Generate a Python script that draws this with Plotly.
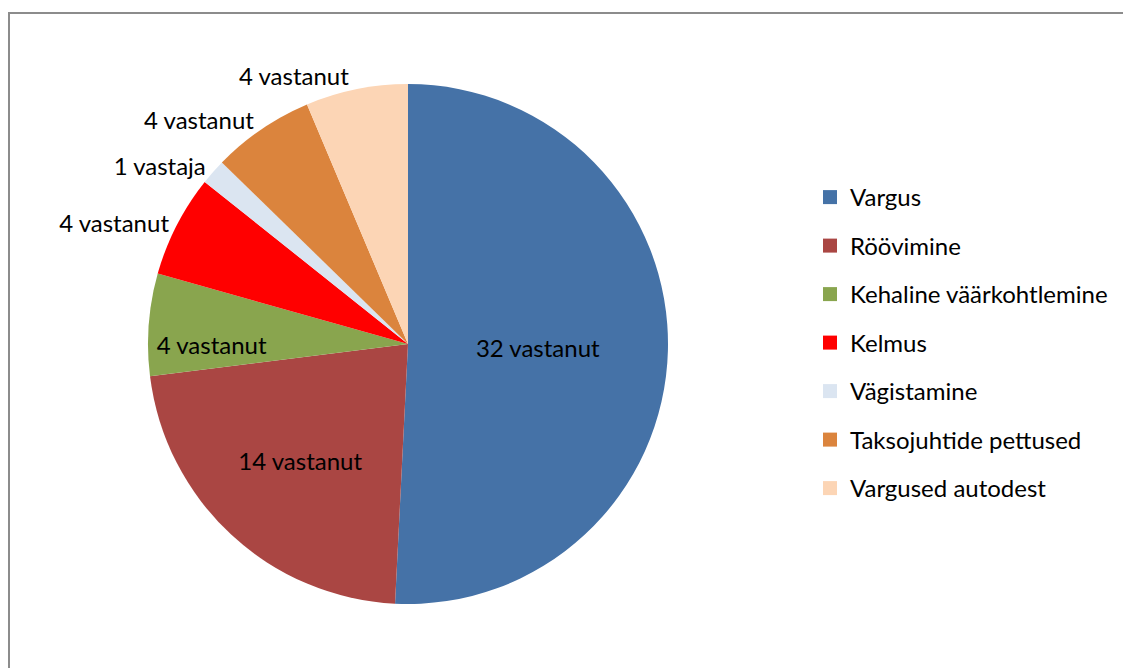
import plotly.graph_objects as go

categories = ["Vargus", "Röövimine", "Kehaline väärkohtlemine", "Kelmus",
              "Vägistamine", "Taksojuhtide pettused", "Vargused autodest"]
values = [32, 14, 4, 4, 1, 4, 4]
label_texts = ["32 vastanut", "14 vastanut", "4 vastanut", "4 vastanut",
               "1 vastaja", "4 vastanut", "4 vastanut"]
colors = ["#4572A7", "#AA4643", "#89A54E", "#FF0000", "#DBE5F1", "#DB843D", "#FCD5B5"]
text_positions = ["inside", "inside", "inside", "outside", "outside", "outside", "outside"]

OFF = 8  # page body margin
W, H = 1131 - OFF, 668 - OFF
FONT = "Lato"
FS = 24

cx, cy, R = 408 - OFF, 344 - OFF, 260

fig = go.Figure()
fig.add_trace(go.Pie(
    labels=categories, values=values, text=label_texts,
    textinfo="text", textposition=text_positions,
    insidetextorientation="horizontal",
    marker=dict(colors=colors, line=dict(width=0)),
    sort=False, direction="clockwise", rotation=0,
    textfont=dict(family=FONT, size=FS, color="black"),
    outsidetextfont=dict(family=FONT, size=FS, color="black"),
    insidetextfont=dict(family=FONT, size=FS, color="black"),
    domain=dict(x=[(cx - R) / W, (cx + R) / W],
                y=[(H - cy - R) / H, (H - cy + R) / H]),
    showlegend=False,
))

# legend entries
for cat, col in zip(categories, colors):
    fig.add_trace(go.Scatter(
        x=[None], y=[None], mode="markers", name=cat, legendgroup=cat,
        marker=dict(symbol="square", size=14, color=col),
    ))

fig.update_layout(
    width=W, height=H,
    margin=dict(l=0, r=0, t=0, b=0),
    paper_bgcolor="white", plot_bgcolor="white",
    font=dict(family=FONT, size=FS, color="black"),
    uniformtext=dict(minsize=FS, mode="show"),
    xaxis=dict(visible=False), yaxis=dict(visible=False),
    legend=dict(x=(810 - OFF) / W, y=1 - (175 - OFF) / H, xanchor="left", yanchor="top",
                tracegroupgap=14.3, itemwidth=30, bgcolor="rgba(0,0,0,0)",
                font=dict(family=FONT, size=FS, color="black")),
    shapes=[dict(type="rect", xref="paper", yref="paper",
                 x0=1 / W, x1=1.02, y0=-0.02, y1=1 - (13 - OFF) / H,
                 line=dict(color="#8C8C8C", width=2), fillcolor="rgba(0,0,0,0)")],
)

fig.write_html("out.html")
